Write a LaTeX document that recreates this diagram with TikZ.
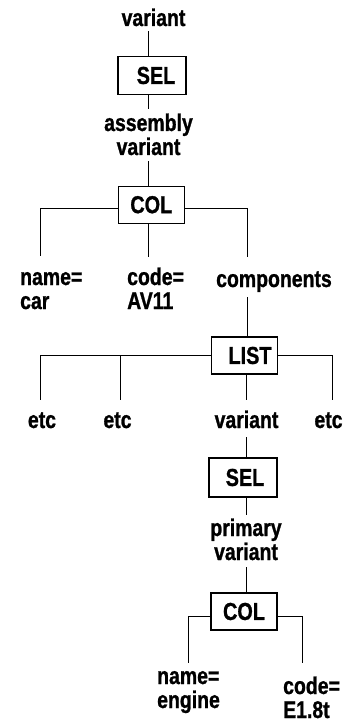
\documentclass[tikz,border=0pt]{standalone}
\usepackage{fontspec}
\usetikzlibrary{calc}
\newfontfamily\lblfamily{Liberation Sans}[UprightFont={* Bold}, FakeStretch=0.81, FakeBold=1]
\newcommand\lblfont{\lblfamily\fontsize{24}{24}\selectfont\lineskiplimit=-30pt}
\newcommand\boxfont{\lblfamily\fontsize{24.5}{24}\selectfont}
\begin{document}
\begin{tikzpicture}[x=1pt,y=-1pt,
  lbl/.style={font=\lblfont, inner sep=0pt, align=left},
  clbl/.style={font=\lblfont, inner sep=0pt, align=center},
  box/.style={draw, line width=1.2pt, minimum width=66pt, minimum height=37pt, inner sep=0pt, font=\boxfont},
  ln/.style={line width=1pt}]
\fill[white] (0,0) rectangle (346,727);
\useasboundingbox (0,0) rectangle (346,727);

% nodes (base anchor = baseline of the last line)
\node[lbl, anchor=base] (v1) at (153.5,26) {variant};
\node[box, minimum width=68pt, minimum height=38pt] (sel1) at (152,75.5) {\hspace*{8pt}SEL};
\node[clbl, anchor=base] (av) at (148.5,155) {assembly\\variant};
\node[box] (col1) at (151.3,204.7) {COL};
\node[lbl, anchor=base west] (name1) at (20,309) {name=\\car};
\node[lbl, anchor=base west] (code1) at (127,309) {code=\\AV11};
\node[lbl, anchor=base west] (comp) at (216,287) {components};
\node[box] (list) at (244.5,355.5) {\hspace*{11pt}LIST};
\node[lbl, anchor=base] (etc1) at (42,428) {etc};
\node[lbl, anchor=base] (etc2) at (117.5,428) {etc};
\node[lbl, anchor=base] (var2) at (246.5,428) {variant};
\node[lbl, anchor=base] (etc3) at (328.5,428) {etc};
\node[box, minimum width=68pt, minimum height=39pt] (sel2) at (243,477.5) {\hspace*{4pt}SEL};
\node[clbl, anchor=base] (prim) at (246,560) {primary\\variant};
\node[box] (col2) at (244,611.5) {COL};
\node[lbl, anchor=base west] (name2) at (157,708) {name=\\engine};
\node[lbl, anchor=base west] (code2) at (283,718) {code=\\E1.8t};

% connectors
\draw[ln] ($(sel1.north)+(-3.5,0)$) -- ($(sel1.north |- v1.base)+(-3.5,5)$);
\draw[ln] ($(sel1.south)+(-3.5,0)$) -- ($(sel1.south |- av.base)+(-3.5,-46)$);
\draw[ln] ($(col1.north)+(-3,0)$) -- ($(col1.north |- av.base)+(-3,6)$);
\draw[ln] ($(col1.west)+(0,4)$) -| ($(name1.base west)+(20,-53)$);
\draw[ln] ($(col1.east)+(0,4)$) -| ($(comp.base west)+(31,-30)$);
\draw[ln] ($(col1.south)+(-3,0)$) -- ($(col1.south |- code1.base)+(-3,-52)$);
\draw[ln] ($(list.north)+(2.5,0)$) -- ($(list.north |- comp.base)+(2.5,10)$);
\draw[ln] (list.west) -| ($(etc1.base)+(-1.5,-28)$);
\draw[ln] ($(list.west -| etc2.base)+(3,0)$) -- ($(etc2.base)+(3,-28)$);
\draw[ln] (list.east) -| ($(etc3.base)+(3.5,-28)$);
\draw[ln] ($(list.south)+(1.5,0)$) -- ($(list.south |- var2.base)+(1.5,-28)$);
\draw[ln] ($(sel2.north)+(3.5,0)$) -- ($(sel2.north |- var2.base)+(3.5,9)$);
\draw[ln] ($(sel2.south)+(3,0)$) -- ($(sel2.south |- prim.base)+(3,-45)$);
\draw[ln] ($(col2.north)+(2,0)$) -- ($(col2.north |- prim.base)+(2,7)$);
\draw[ln] ($(col2.west)+(0,4.5)$) -| ($(name2.base west)+(31,-45)$);
\draw[ln] ($(col2.east)+(0,4.5)$) -| ($(code2.base west)+(19,-55)$);
\end{tikzpicture}
\end{document}
